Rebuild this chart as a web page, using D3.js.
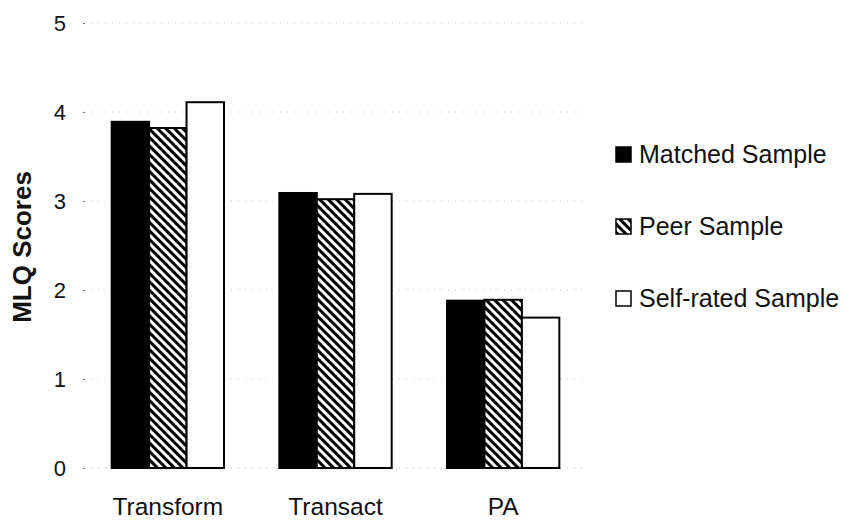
<!DOCTYPE html>
<html>
<head>
<meta charset="utf-8">
<script src="https://cdn.jsdelivr.net/npm/d3@7"></script>
<style>
  body { margin: 0; background: #fff; }
  text { font-family: "Liberation Sans", Arial, sans-serif; fill: #111; }
</style>
</head>
<body>
<div id="chart"></div>
<script>
// values
const categories = ["Transform", "Transact", "PA"];
const seriesNames = ["Matched Sample", "Peer Sample", "Self-rated Sample"];
const matched = [3.89, 3.09, 1.88];
const peer = [3.82, 3.02, 1.89];
const selfRated = [4.11, 3.08, 1.69];
const yTicks = [0, 1, 2, 3, 4, 5];

const width = 847, height = 520;
const fills = ["#000", "url(#hatch)", "#fff"];

const svg = d3.select("#chart").append("svg")
    .attr("width", width).attr("height", height);

// diagonal hatch for the peer sample
const defs = svg.append("defs");
const pat = defs.append("pattern")
    .attr("id", "hatch")
    .attr("patternUnits", "userSpaceOnUse")
    .attr("width", 6).attr("height", 6)
    .attr("patternTransform", "rotate(-45)");
pat.append("rect").attr("width", 6).attr("height", 6).attr("fill", "#fff");
pat.append("rect").attr("x", 0).attr("width", 3).attr("height", 6).attr("fill", "#000");

let x0 = d3.scaleBand()
    .domain(categories)
    .range([84, 587])
    .paddingInner(0.33)
    .paddingOuter(0.165);

let x1 = d3.scaleBand()
    .domain(seriesNames)
    .range([0, x0.bandwidth()]);

let y = d3.scaleLinear().domain([0, 5]).range([468, 23]);

// faint dotted grid
svg.append("g")
    .selectAll("line")
    .data(yTicks.slice(1))
    .join("line")
    .attr("x1", 84).attr("x2", 587)
    .attr("y1", d => y(d)).attr("y2", d => y(d))
    .attr("stroke", "#c8c8c8")
    .attr("stroke-width", 1)
    .attr("stroke-dasharray", "1,6");

// y axis labels + tiny tick dots
let yAxis = d3.axisLeft(y).tickValues(yTicks).tickFormat(d3.format("d")).tickSize(0).tickPadding(18);
let gy = svg.append("g").attr("transform", "translate(84,0)").call(yAxis);
gy.select(".domain").remove();
gy.selectAll("text").style("font-size", "22px").attr("fill", "#111");
gy.selectAll(".tick").append("line")
    .attr("x1", -1).attr("x2", 1)
    .attr("stroke", "#777");

// baseline
svg.append("line")
    .attr("x1", 84).attr("x2", 587)
    .attr("y1", y(0)).attr("y2", y(0))
    .attr("stroke", "#bbb")
    .attr("stroke-dasharray", "1,6");

const rows = categories.map((c, i) => ({
    cat: c,
    vals: [matched[i], peer[i], selfRated[i]]
}));

let groups = svg.append("g").selectAll("g")
    .data(rows)
    .join("g")
    .attr("transform", d => "translate(" + x0(d.cat) + ",0)");

groups.selectAll("rect")
    .data(d => d.vals.map((v, j) => ({ name: seriesNames[j], value: v, j: j })))
    .join("rect")
    .attr("x", d => x1(d.name))
    .attr("width", x1.bandwidth())
    .attr("y", d => y(d.value))
    .attr("height", d => y(0) - y(d.value))
    .attr("fill", d => fills[d.j])
    .attr("stroke", "#000")
    .attr("stroke-width", 2);

// x labels
let xAxis = d3.axisBottom(x0).tickSize(0).tickPadding(30);
let gx = svg.append("g").attr("transform", "translate(0," + y(0) + ")").call(xAxis);
gx.select(".domain").remove();
gx.selectAll("text").style("font-size", "24.5px").attr("fill", "#111");

// y title
svg.append("text")
    .attr("transform", "translate(31,247) rotate(-90)")
    .attr("text-anchor", "middle")
    .style("font-size", "26px")
    .style("font-weight", "bold")
    .text("MLQ Scores");

// legend
let legend = svg.append("g").attr("transform", "translate(616,0)");
let legendY = d3.scalePoint().domain(seriesNames).range([154, 298]);
let li = legend.selectAll("g")
    .data(seriesNames)
    .join("g")
    .attr("transform", d => "translate(0," + legendY(d) + ")");
li.append("rect")
    .attr("x", 0).attr("y", -7)
    .attr("width", 15).attr("height", 15)
    .attr("fill", (d, i) => fills[i])
    .attr("stroke", "#000")
    .attr("stroke-width", 1.5);
li.append("text")
    .attr("x", 23).attr("y", 0)
    .attr("dy", "0.35em")
    .style("font-size", "25px")
    .text(d => d);
</script>
</body>
</html>
